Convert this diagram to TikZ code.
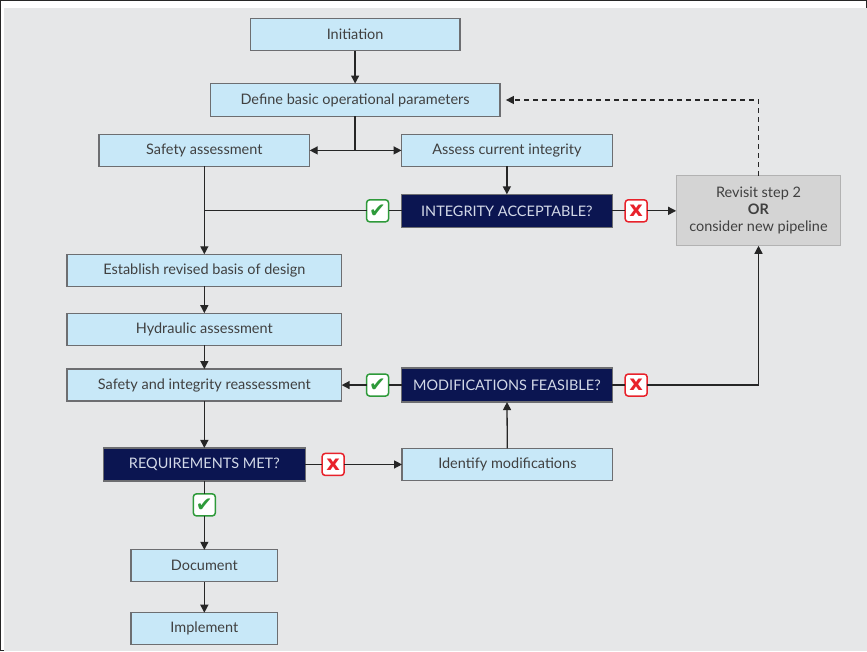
\documentclass[tikz,border=0pt]{standalone}
\usepackage{fontspec}
\setmainfont{Lato}
\newfontfamily\symfont{DejaVu Sans}
\usepackage{xcolor}
\usepackage{tikz}
\usetikzlibrary{positioning}
\usetikzlibrary{arrows.meta}
\definecolor{bgcol}{HTML}{E6E7E8}
\definecolor{boxblue}{HTML}{C8E8F8}
\definecolor{boxline}{HTML}{6D6E71}
\definecolor{navy}{HTML}{0B1551}
\definecolor{navytext}{HTML}{D3D9E8}
\definecolor{revgray}{HTML}{D4D4D4}
\definecolor{okgreen}{HTML}{2E9A3A}
\definecolor{nored}{HTML}{E8222B}
\newcommand{\okmark}{{\symfont\fontsize{20}{20}\selectfont\color{okgreen}\char"2714}}
\newcommand{\nomark}{{\symfont\bfseries\fontsize{21}{21}\selectfont\color{nored}x}}

\begin{document}
\begin{tikzpicture}[x=1pt, y=-1pt, align=center,
  font=\fontsize{14.5}{17}\selectfont, text=black!75,
  step box/.style={draw=boxline, line width=1.2pt, fill=boxblue, inner sep=0pt,
    outer sep=0pt, minimum height=32pt},
  query box/.style={draw=boxline, line width=1.2pt, fill=navy, text=navytext,
    inner sep=0pt, outer sep=0pt, minimum height=33pt},
  ok box/.style={draw=okgreen, line width=1.5pt, fill=white, rounded corners=3pt,
    minimum size=22pt, inner sep=0pt, outer sep=0pt},
  no box/.style={draw=nored, line width=1.5pt, fill=white, rounded corners=3pt,
    minimum size=22pt, inner sep=0pt, outer sep=0pt},
  every path/.style={line width=1.3pt, draw=black!85},
  >={Triangle[length=8pt,width=8pt]}]
  \useasboundingbox (0,0) rectangle (867,651);
  \fill[bgcol] (4,8) rectangle (867,651);

  \node (init) [step box, minimum width=210pt] at (355,34) {Initiation};
  \node (define) [step box, minimum width=290pt, minimum height=33pt, below=33pt of init] {Define basic operational parameters};
  \node (safety) [step box, minimum width=211pt, below=18pt of define, xshift=-151pt] {Safety assessment};
  \node (assess) [step box, minimum width=211pt, below=18pt of define, xshift=152pt] {Assess current integrity};
  \node (integ) [query box, minimum width=211pt, below=28pt of assess] {INTEGRITY ACCEPTABLE?};
  \node (revisit) [draw=black!30, line width=1.2pt, fill=revgray, outer sep=0pt,
    minimum width=165pt, minimum height=70pt, right=64pt of integ] {Revisit step 2\\ \textbf{OR}\\ consider new pipeline};
  \node (establish) [step box, minimum width=275pt, below=88pt of safety] {Establish revised basis of design};
  \node (hydraulic) [step box, minimum width=275pt, below=27pt of establish] {Hydraulic assessment};
  \node (reassess) [step box, minimum width=275pt, below=24pt of hydraulic] {Safety and integrity reassessment};
  \node (modfeas) [query box, minimum width=211pt, minimum height=34pt, right=60pt of reassess] {MODIFICATIONS FEASIBLE?};
  \node (require) [query box, minimum width=202pt, below=47pt of reassess] {REQUIREMENTS MET?};
  \node (identify) [step box, minimum width=211pt, right=97pt of require] {Identify modifications};
  \node (document) [step box, minimum width=147pt, below=69pt of require] {Document};
  \node (implement) [step box, minimum width=147pt, below=31pt of document] {Implement};

  \node (ok1) [ok box, left=13pt of integ] {\okmark};
  \node (no1) [no box, right=13pt of integ] {\nomark};
  \node (ok2) [ok box, left=13pt of modfeas] {\okmark};
  \node (no2) [no box, right=13pt of modfeas] {\nomark};
  \node (no3) [no box, right=17pt of require] {\nomark};
  \node (ok3) [ok box, below=13pt of require] {\okmark};

  \coordinate (split) at (define.south |- safety);
  \draw[->] (init) -- (define);
  \draw (define) -- (split);
  \draw[->] (split) -- (safety);
  \draw[->] (split) -- (assess);
  \draw[->] (assess) -- (integ);
  \draw[->] (safety) -- (establish);
  \draw (integ) -- (ok1);
  \draw (ok1) -- (ok1 -| safety);
  \draw (integ) -- (no1);
  \draw[->] (no1) -- (revisit);
  \draw[->, dash pattern=on 5pt off 4pt, shorten >=6pt] (revisit) |- (define);
  \draw[->] (establish) -- (hydraulic);
  \draw[->] (hydraulic) -- (reassess);
  \draw (modfeas) -- (ok2);
  \draw[->] (ok2) -- (reassess);
  \draw (modfeas) -- (no2);
  \draw[->] (no2) -| (revisit);
  \draw[->] (reassess) -- (require);
  \draw (require) -- (no3);
  \draw[->] (no3) -- (identify);
  \draw[->] (identify) -- (modfeas);
  \draw (require) -- (ok3);
  \draw[->] (ok3) -- (document);
  \draw[->] (document) -- (implement);
\end{tikzpicture}
\end{document}
